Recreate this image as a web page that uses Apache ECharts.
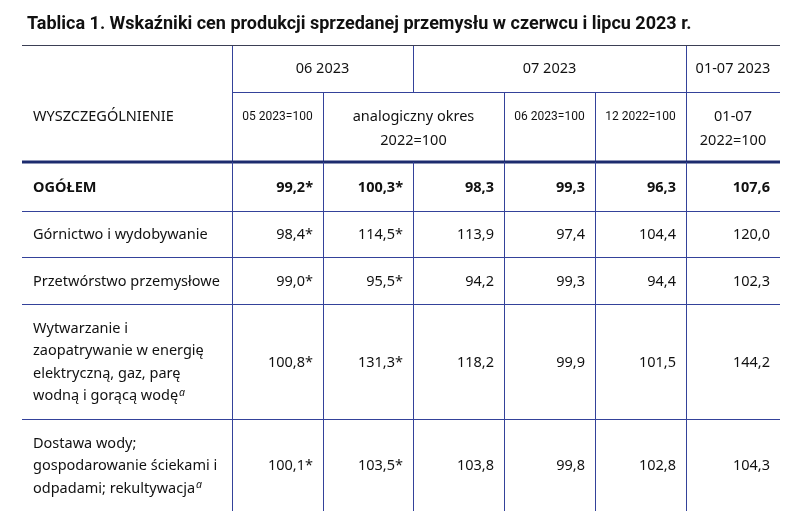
<!DOCTYPE html>
<html>
<head>
<meta charset="utf-8">
<script src="https://cdn.jsdelivr.net/npm/echarts@6/dist/echarts.min.js"></script>
<style>
  html, body { margin: 0; padding: 0; background: #fff; }
  #chart { width: 800px; height: 521px; }
</style>
</head>
<body>
<div id="chart"></div>
<script>
// --- data ---
const title = "Tablica 1. Wskaźniki cen produkcji sprzedanej przemysłu w czerwcu i lipcu 2023 r.";
const stubHeader = "WYSZCZEGÓLNIENIE";
const groupHeaders = ["06 2023", "07 2023", "01-07 2023"];
const subHeaders = ["05 2023=100", "analogiczny okres\n2022=100", "06 2023=100", "12 2022=100", "01-07\n2022=100"];
const categories = [
    "OGÓŁEM",
    "Górnictwo i wydobywanie",
    "Przetwórstwo przemysłowe",
    "Wytwarzanie i\nzaopatrywanie w energię\nelektryczną, gaz, parę\nwodną i gorącą wodę",
    "Dostawa wody;\ngospodarowanie ściekami i\nodpadami; rekultywacja"
];
const footnotes = ["", "", "", "a", "a"];
const jun_vsMay = [99.2, 98.4, 99.0, 100.8, 100.1];
const jun_vsYear = [100.3, 114.5, 95.5, 131.3, 103.5];
const jul_vsYear = [98.3, 113.9, 94.2, 118.2, 103.8];
const jul_vsJun = [99.3, 97.4, 99.3, 99.9, 99.8];
const jul_vsDec = [96.3, 104.4, 94.4, 101.5, 102.8];
const ytd_vsYtd = [107.6, 120.0, 102.3, 144.2, 104.3];
const preliminary = [true, true, false, false, false, false]; // asterisk per value column

// --- layout (table grid in axis units) ---
const colEdges = [0, 210, 301, 391, 482, 573, 664, 758];
const rowEdges = [0, 47, 117, 166, 212, 259, 374, 466];
const FONT = "'Noto Sans', 'Open Sans', sans-serif";
const LINE = "#34429a";
const THICK = "#1c2b6e";

const valueCols = [jun_vsMay, jun_vsYear, jul_vsYear, jul_vsJun, jul_vsDec, ytd_vsYtd];

function fmt(v, star) {
    return v.toFixed(1).replace(".", ",") + (star ? "*" : "");
}

// build cells
let cells = [];
cells.push({ c0: 0, c1: 1, r0: 0, r1: 2, text: stubHeader, kind: "stub" });
cells.push({ c0: 1, c1: 3, r0: 0, r1: 1, text: groupHeaders[0], kind: "group" });
cells.push({ c0: 3, c1: 6, r0: 0, r1: 1, text: groupHeaders[1], kind: "group" });
cells.push({ c0: 6, c1: 7, r0: 0, r1: 1, text: groupHeaders[2], kind: "group" });
const subSpans = [[1, 2], [2, 4], [4, 5], [5, 6], [6, 7]];
subHeaders.forEach((t, i) => {
    cells.push({ c0: subSpans[i][0], c1: subSpans[i][1], r0: 1, r1: 2, text: t, kind: "sub", small: t.indexOf("\n") < 0 });
});
categories.forEach((cat, r) => {
    const rr = r + 2;
    let txt = cat + (footnotes[r] ? "{sup|" + footnotes[r] + "}" : "");
    cells.push({ c0: 0, c1: 1, r0: rr, r1: rr + 1, text: txt, kind: "cat", bold: r === 0, last: r === categories.length - 1 });
    valueCols.forEach((col, c) => {
        cells.push({ c0: c + 1, c1: c + 2, r0: rr, r1: rr + 1, text: fmt(col[r], preliminary[c]), kind: "num", bold: r === 0, last: r === categories.length - 1 });
    });
});

function px(v) { return Math.round(v) + 0.5; }

function renderCell(params, api) {
    const cell = cells[params.dataIndex];
    const p0 = api.coord([colEdges[cell.c0], rowEdges[cell.r0]]);
    const p1 = api.coord([colEdges[cell.c1], rowEdges[cell.r1]]);
    const children = [];
    // borders
    if (cell.c0 > 0) {
        children.push({ type: "line", shape: { x1: px(p0[0]), y1: p0[1], x2: px(p0[0]), y2: p1[1] }, style: { stroke: LINE, lineWidth: 1 } });
    }
    if (cell.r0 === 0) {
        children.push({ type: "line", shape: { x1: p0[0], y1: px(p0[1]), x2: p1[0], y2: px(p0[1]) }, style: { stroke: "#3b3f55", lineWidth: 1 } });
    }
    if (cell.r1 === 2) {
        children.push({ type: "line", shape: { x1: p0[0], y1: p1[1], x2: p1[0], y2: p1[1] }, style: { stroke: THICK, lineWidth: 3 } });
    } else if (!cell.last) {
        children.push({ type: "line", shape: { x1: p0[0], y1: px(p1[1]), x2: p1[0], y2: px(p1[1]) }, style: { stroke: LINE, lineWidth: 1 } });
    }
    // text
    const midX = (p0[0] + p1[0]) / 2;
    const midY = (p0[1] + p1[1]) / 2;
    let style = { text: cell.text, fill: "#111", fontFamily: FONT, fontSize: 14.5 };
    if (cell.kind === "group") {
        Object.assign(style, { x: midX, y: midY, align: "center", verticalAlign: "middle" });
    } else if (cell.kind === "sub") {
        const top = api.coord([0, rowEdges[1]])[1];
        Object.assign(style, { x: midX, y: top + 13, align: "center", verticalAlign: "top", lineHeight: 24 });
        if (cell.small) { style.fontSize = 12; style.fontFamily = "'Roboto', 'Noto Sans', sans-serif"; }
    } else if (cell.kind === "stub") {
        const top = api.coord([0, rowEdges[1]])[1];
        Object.assign(style, { x: p0[0] + 11, y: top + 25, align: "left", verticalAlign: "middle" });
    } else if (cell.kind === "cat") {
        Object.assign(style, {
            x: p0[0] + 11, y: midY + 1, align: "left", verticalAlign: "middle", lineHeight: 22.5,
            fontWeight: cell.bold ? "bold" : "normal",
            rich: { sup: { fontSize: 10.5, fontStyle: "italic", fontFamily: FONT, fill: "#111", verticalAlign: "bottom", padding: [0, 0, 9, 1] } }
        });
    } else {
        Object.assign(style, { x: p1[0] - 10, y: midY + 1, align: "right", verticalAlign: "middle", fontWeight: cell.bold ? "bold" : "normal" });
    }
    children.push({ type: "text", style: style });
    return { type: "group", children: children };
}

const chart = echarts.init(document.getElementById("chart"));
const option = {
    animation: false,
    backgroundColor: "#fff",
    title: {
        text: title,
        left: 22,
        top: 10,
        textStyle: { fontSize: 18, fontWeight: "bold", color: "#111", fontFamily: "'Roboto', 'Noto Sans', sans-serif" }
    },
    grid: { left: 22, top: 45, width: 758, height: 466 },
    xAxis: { type: "value", min: 0, max: 758, show: false },
    yAxis: { type: "value", min: 0, max: 466, inverse: true, show: false },
    series: [{
        type: "custom",
        clip: false,
        renderItem: renderCell,
        data: cells.map(c => [c.c0, c.r0, c.c1, c.r1])
    }]
};
chart.setOption(option);
</script>
</body>
</html>
